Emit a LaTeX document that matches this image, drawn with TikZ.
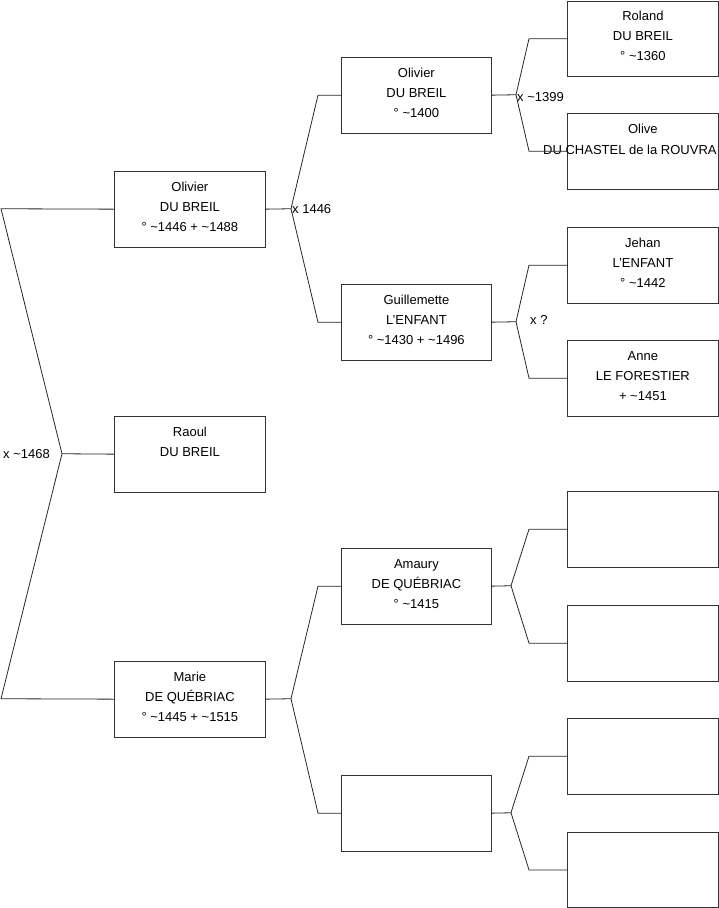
\documentclass[tikz,border=0pt]{standalone}
\usepackage{fontspec}
\setmainfont{Liberation Sans}
\begin{document}
\begin{tikzpicture}[x=1pt,y=-1pt,
  box/.style={draw=black!80,line width=0.8pt,minimum width=151pt,minimum height=75.5pt,inner sep=0pt,anchor=north west},
  txt/.style={font=\fontsize{13}{20}\selectfont,align=center,inner sep=0pt,anchor=north},
  lbl/.style={font=\fontsize{13}{15}\selectfont,inner sep=1pt},
  conn/.style={draw=black!85,line width=0.8pt}]
\useasboundingbox (0,0) rectangle (719,908);
% generation 1
\node[box] (olivierA) at (114,171) {};
\node[box] (raoul) at (114,416) {};
\node[box] (marie) at (114,661) {};
% generation 2
\node[box,minimum width=150pt] (olivierB) at (341,57) {};
\node[box,minimum width=150pt] (guillemette) at (341,284) {};
\node[box,minimum width=150pt] (amaury) at (341,548) {};
\node[box,minimum width=150pt] (emptyB) at (341,775) {};
% generation 3
\node[box] (roland) at (567,0.5) {};
\node[box] (olive) at (567,113) {};
\node[box] (jehan) at (567,227) {};
\node[box] (anne) at (567,340) {};
\node[box] (emptyC1) at (567,491) {};
\node[box] (emptyC2) at (567,605) {};
\node[box] (emptyC3) at (567,718) {};
\node[box,minimum height=75pt] (emptyC4) at (567,832) {};
% texts
\node[txt] (tOlivierA) at ([yshift=-6pt]olivierA.north) {\strut Olivier\\\strut DU BREIL\\\strut ° \textasciitilde1446 + \textasciitilde1488};
\node[txt] (tRaoul) at ([yshift=-6pt]raoul.north) {\strut Raoul\\\strut DU BREIL};
\node[txt] (tMarie) at ([yshift=-6pt]marie.north) {\strut Marie\\\strut DE QUÉBRIAC\\\strut ° \textasciitilde1445 + \textasciitilde1515};
\node[txt] (tOlivierB) at ([yshift=-6pt]olivierB.north) {\strut Olivier\\\strut DU BREIL\\\strut ° \textasciitilde1400};
\node[txt] (tGuillemette) at ([yshift=-6pt]guillemette.north) {\strut Guillemette\\\strut L'ENFANT\\\strut ° \textasciitilde1430 + \textasciitilde1496};
\node[txt] (tAmaury) at ([yshift=-6pt]amaury.north) {\strut Amaury\\\strut DE QUÉBRIAC\\\strut ° \textasciitilde1415};
\node[txt] (tRoland) at ([yshift=-6pt]roland.north) {\strut Roland\\\strut DU BREIL\\\strut ° \textasciitilde1360};
\node[txt] (tOlive) at ([yshift=-6pt]olive.north) {\strut Olive};
\node[txt,anchor=base west] (tOlive2) at (543,154) {DU CHASTEL de la ROUVRA};
\node[txt] (tJehan) at ([yshift=-6pt]jehan.north) {\strut Jehan\\\strut L'ENFANT\\\strut ° \textasciitilde1442};
\node[txt] (tAnne) at ([yshift=-6pt]anne.north) {\strut Anne\\\strut LE FORESTIER\\\strut + \textasciitilde1451};
% connector vertices
\coordinate (v0) at (62,453.75);
\coordinate (v0a) at (1,208.75);
\coordinate (v0b) at (1,698.75);
\coordinate (v1) at (291,208.75);
\coordinate (v2) at (291,698.75);
\coordinate (v3) at (516,94.75);
\coordinate (v4) at (516,321.75);
\coordinate (v5) at (511,585.75);
\coordinate (v6) at (511,812.75);
% connectors
\draw[conn] (olivierA.west) -- (v0a) -- (v0) -- (v0b) -- (marie.west);
\draw[conn] (v0) -- (raoul.west);
\draw[conn] (olivierA.east) -- (v1);
\draw[conn] (olivierB.west) -- ++(-23,0) -- (v1) -- ([xshift=-23pt]guillemette.west) -- (guillemette.west);
\draw[conn] (marie.east) -- (v2);
\draw[conn] (amaury.west) -- ++(-23,0) -- (v2) -- ([xshift=-23pt]emptyB.west) -- (emptyB.west);
\draw[conn] (olivierB.east) -- (v3);
\draw[conn] (roland.west) -- ++(-38,0) -- (v3) -- ([xshift=-38pt]olive.west) -- (olive.west);
\draw[conn] (guillemette.east) -- (v4);
\draw[conn] (jehan.west) -- ++(-38,0) -- (v4) -- ([xshift=-38pt]anne.west) -- (anne.west);
\draw[conn] (amaury.east) -- (v5);
\draw[conn] (emptyC1.west) -- ++(-38,0) -- (v5) -- ([xshift=-38pt]emptyC2.west) -- (emptyC2.west);
\draw[conn] (emptyB.east) -- (v6);
\draw[conn] (emptyC3.west) -- ++(-38,0) -- (v6) -- ([xshift=-38pt]emptyC4.west) -- (emptyC4.west);
% marriage labels
\node[lbl,anchor=east] (m0) at ([xshift=-11pt]v0) {x \textasciitilde1468};
\node[lbl,anchor=west] (m1) at (v1) {x 1446};
\node[lbl,anchor=west] (m3) at ([yshift=-2pt]v3) {x \textasciitilde1399};
\node[lbl,anchor=west] (m4) at (529,320) {x ?};
\end{tikzpicture}
\end{document}
